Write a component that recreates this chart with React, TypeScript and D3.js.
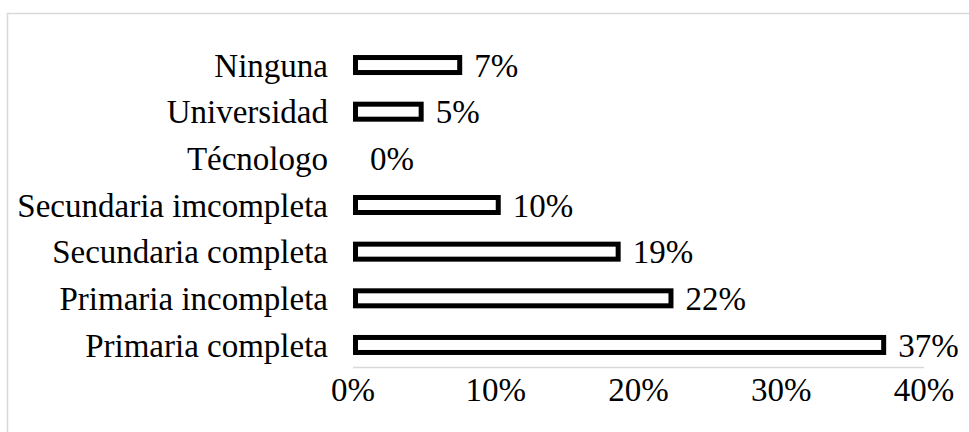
import React from "react";
import * as d3 from "d3";

const categories = [
  "Ninguna",
  "Universidad",
  "Técnologo",
  "Secundaria imcompleta",
  "Secundaria completa",
  "Primaria incompleta",
  "Primaria completa",
];
const values = [7.3, 4.6, 0, 10.0, 18.4, 22.1, 37.0];
const labels = ["7%", "5%", "0%", "10%", "19%", "22%", "37%"];
const tickValues = [0, 10, 20, 30, 40];

const W = 969;
const H = 432;
const FONT = "'Liberation Serif', 'Times New Roman', serif";

export default function App() {
  const x = d3.scaleLinear().domain([0, 40]).range([353, 924]);
  const y = d3.scaleBand<string>().domain(categories).range([41.7, 368.3]).padding(0);
  const bw = y.bandwidth();
  const barH = 15;

  return (
    <svg
      width={W}
      height={H}
      style={{ position: "absolute", left: 0, top: 0, background: "#fff" }}
    >
      <rect x={7.5} y={13.5} width={W + 10} height={H + 10} fill="#fff" stroke="#d9d9d9" strokeWidth={1.5} />
      <line x1={x(0)} x2={x(40)} y1={367.5} y2={367.5} stroke="#d9d9d9" strokeWidth={1.5} />
      {categories.map((c, i) => {
        const cy = (y(c) as number) + bw / 2;
        const v = values[i];
        return (
          <g key={c}>
            <text
              x={328}
              y={cy}
              dy="0.35em"
              textAnchor="end"
              fontFamily={FONT}
              fontSize={33}
              fill="#000"
            >
              {c}
            </text>
            {v > 0 && (
              <rect
                x={x(0) + 2.5}
                y={cy - barH / 2}
                width={x(v) - x(0)}
                height={barH}
                fill="#fff"
                stroke="#000"
                strokeWidth={5}
              />
            )}
            <text
              x={x(v) + 17}
              y={cy}
              dy="0.35em"
              textAnchor="start"
              fontFamily={FONT}
              fontSize={33}
              fill="#000"
            >
              {labels[i]}
            </text>
          </g>
        );
      })}
      {tickValues.map((t) => (
        <text
          key={t}
          x={x(t)}
          y={401}
          textAnchor="middle"
          fontFamily={FONT}
          fontSize={33}
          fill="#000"
        >
          {t + "%"}
        </text>
      ))}
    </svg>
  );
}
